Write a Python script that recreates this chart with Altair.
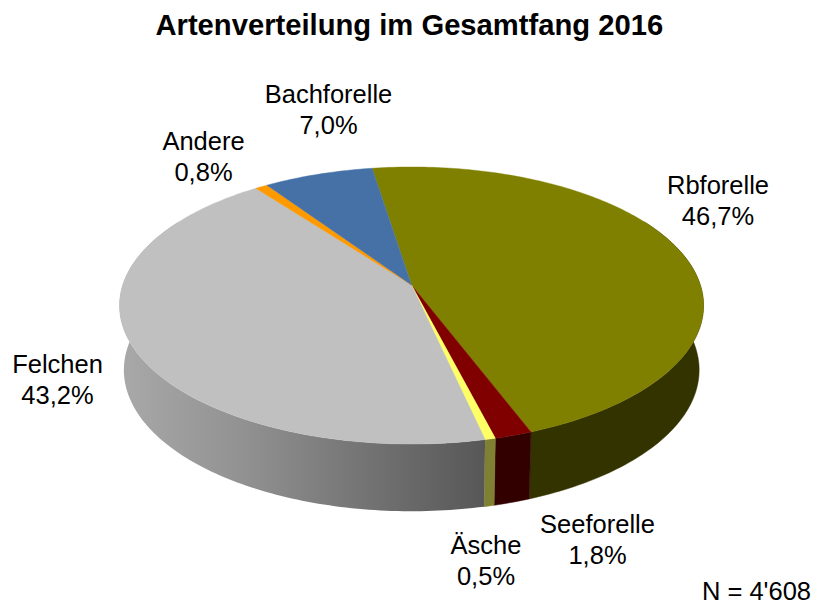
import math
import altair as alt
import pandas as pd

# ---- chart values, in clockwise order from the start angle
species = ["Rbforelle", "Seeforelle", "Äsche", "Felchen", "Andere", "Bachforelle"]
shares = [46.7, 1.8, 0.5, 43.2, 0.8, 7.0]
top_colors = ["#808000", "#800000", "#FFFF66", "#C0C0C0", "#FF9900", "#4571A7"]
wall_colors = ["#333300", "#330000", "#808033", None, None, None]
felchen_stops = ["#A9A9A9", "#929292", "#747474", "#575757"]
title_text = "Artenverteilung im Gesamtfang 2016"
note_text = "N = 4'608"

# ---- projection of the tilted pie
CX, CY = 411.5, 285.0
A, B, P = 288.8, 135.5, 0.148
DROP = 64.0
DROP_TILT = 0.05
BOTTOM_SCALE = 0.985
START = -9.0
FRONT = (60.0, 300.0)


def top_point(deg):
    t = math.radians(deg)
    u, v = math.sin(t), math.cos(t)
    w = 1 + P * v
    return CX + A * u / w, CY - B * v / w


def bottom_point(deg):
    t = math.radians(deg)
    u, v = math.sin(t), math.cos(t)
    w = 1 + P * v
    return CX + BOTTOM_SCALE * A * u / w, CY - B * v / w + DROP * (1 - DROP_TILT * v)


def arc_angles(a0, a1, step=1.0):
    n = max(2, int(abs(a1 - a0) / step) + 1)
    return [a0 + (a1 - a0) * i / n for i in range(n + 1)]


def frame(points):
    return pd.DataFrame(
        {"x": [p[0] for p in points], "y": [p[1] for p in points], "i": range(len(points))}
    )


X = alt.Scale(domain=[8, 814], nice=False, zero=False)
Y = alt.Scale(domain=[606, 48], nice=False, zero=False)


def polygon(points, **mark):
    return (
        alt.Chart(frame(points))
        .mark_line(interpolate="linear", **mark)
        .encode(
            x=alt.X("x:Q", scale=X, axis=None),
            y=alt.Y("y:Q", scale=Y, axis=None),
            order=alt.Order("i:Q"),
        )
    )


layers = []
edges = [START]
for s in shares:
    edges.append(edges[-1] + s * 3.6)

# side wall, front part only
for k in range(len(species)):
    a0, a1 = max(edges[k], FRONT[0]), min(edges[k + 1], FRONT[1])
    if a1 <= a0:
        continue
    angles = arc_angles(a0, a1)
    pts = [top_point(a) for a in angles] + [bottom_point(a) for a in reversed(angles)]
    pts.append(pts[0])
    if species[k] == "Felchen":
        n = len(felchen_stops) - 1
        fill = alt.LinearGradient(
            gradient="linear",
            x1=0, x2=1, y1=0, y2=0,
            stops=[alt.GradientStop(offset=i / n, color=c) for i, c in enumerate(felchen_stops)],
        )
        layers.append(polygon(pts, fill=fill, strokeWidth=0))
    else:
        layers.append(polygon(pts, fill=wall_colors[k], stroke=wall_colors[k], strokeWidth=0.5))

# top face
for k in range(len(species)):
    pts = [(CX, CY)] + [top_point(a) for a in arc_angles(edges[k], edges[k + 1])] + [(CX, CY)]
    layers.append(polygon(pts, fill=top_colors[k], stroke=top_colors[k], strokeWidth=0.4))

# labels: page position of each label's centre and of its two baselines
label_x = [718, 597.5, 486, 57.5, 203.5, 328.5]
label_y1 = [194, 533, 554, 373, 150, 103]
LINE = 31
rows = []
for name, v, x, y in zip(species, shares, label_x, label_y1):
    rows.append({"x": x, "y": y, "t": name})
    rows.append({"x": x, "y": y + LINE, "t": f"{v:.1f}".replace(".", ",") + "%"})

FONT = "Liberation Sans"
TEXT_SIZE = 25.5
layers.append(
    alt.Chart(pd.DataFrame(rows))
    .mark_text(font=FONT, fontSize=TEXT_SIZE, color="#000000", align="center", baseline="alphabetic")
    .encode(
        x=alt.X("x:Q", scale=X, axis=None),
        y=alt.Y("y:Q", scale=Y, axis=None),
        text="t:N",
    )
)
layers.append(
    alt.Chart(pd.DataFrame({"x": [811], "y": [600], "t": [note_text]}))
    .mark_text(font=FONT, fontSize=TEXT_SIZE, color="#000000", align="right", baseline="alphabetic")
    .encode(
        x=alt.X("x:Q", scale=X, axis=None),
        y=alt.Y("y:Q", scale=Y, axis=None),
        text="t:N",
    )
)

chart = (
    alt.layer(*layers)
    .properties(
        width=806,
        height=558,
        padding={"left": 0, "right": 0, "top": 40, "bottom": 0},
        autosize=alt.AutoSizeParams(type="none"),
        title=alt.TitleParams(
            text=title_text,
            font=FONT,
            fontSize=29.2,
            fontWeight="bold",
            color="#000000",
            anchor="middle",
            dx=-1.7,
            offset=7,
        ),
    )
    .configure_view(stroke=None)
)

chart.save("out.html", embed_options={"renderer": "svg", "actions": False})
